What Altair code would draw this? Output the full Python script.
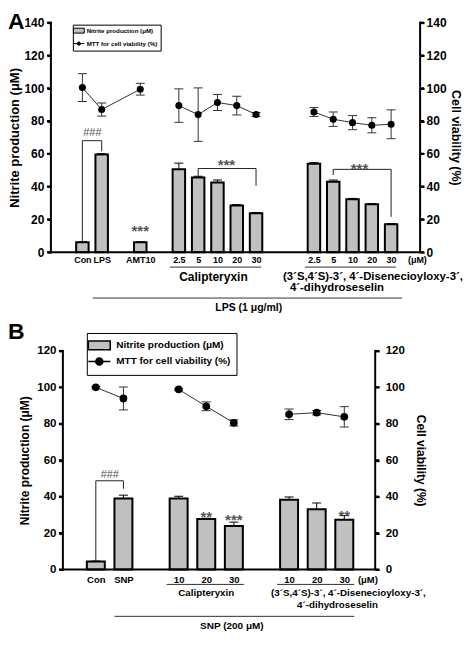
import altair as alt
import pandas as pd

FONT = "Liberation Sans"

# ---------------- Panel A data ----------------
a_slots = ["_0", "Con", "LPS", "_1", "AMT10", "_2", "c|2.5", "c|5", "c|10", "c|20", "c|30",
           "_3", "_4", "d|2.5", "d|5", "d|10", "d|20", "d|30", "_5"]
a_keys = ["Con", "LPS", "AMT10", "c|2.5", "c|5", "c|10", "c|20", "c|30",
          "d|2.5", "d|5", "d|10", "d|20", "d|30"]
a_group = ["ctl", "ctl", "ctl", "c", "c", "c", "c", "c", "d", "d", "d", "d", "d"]
a_nitrite = [6.0, 59.5, 6.0, 50.5, 45.5, 42.5, 28.5, 23.8, 54.0, 43.0, 32.3, 29.2, 17.0]
a_nitrite_err = [0.3, 0.6, 0.3, 3.8, 0.8, 1.5, 0.5, 0.4, 0.6, 1.0, 0.5, 0.4, 0.4]
a_mtt = [100.4, 87.0, 99.4, 89.4, 83.9, 91.3, 89.4, 84.0, 85.5, 81.1, 79.0, 77.4, 78.0]
a_mtt_err = [8.5, 4.0, 3.6, 10.2, 16.3, 4.9, 5.7, 1.2, 2.7, 4.4, 4.3, 4.6, 8.8]
a_br_left = ["Con", "c|5", "d|5"]
a_br_right = ["LPS", "c|30", "d|30"]
a_br_top = [68.0, 51.0, 50.5]
a_br_left_end = [6.5, 46.5, 47.0]
a_br_right_end = [61.5, 40.5, 21.5]
a_sig_text = ["###", "***", "***", "***"]
a_sig_key = ["Con", "AMT10", "c|10", "d|10"]
a_sig_y = [72.5, 16.0, 56.0, 54.0]

# ---------------- Panel B data ----------------
b_slots = ["_0", "Con", "SNP", "_1", "c|10", "c|20", "c|30", "_2", "d|10", "d|20", "d|30", "_3"]
b_keys = ["Con", "SNP", "c|10", "c|20", "c|30", "d|10", "d|20", "d|30"]
b_group = ["ctl", "ctl", "c", "c", "c", "d", "d", "d"]
b_nitrite = [4.3, 39.0, 39.0, 27.7, 23.8, 38.3, 33.0, 27.3]
b_nitrite_err = [0.3, 1.8, 1.2, 0.4, 2.2, 1.5, 3.5, 2.3]
b_mtt = [100.0, 93.9, 98.9, 89.6, 80.5, 85.2, 86.1, 83.8]
b_mtt_err = [0.5, 6.3, 0.5, 2.4, 1.7, 2.9, 1.2, 5.6]
b_br_left = ["Con"]
b_br_right = ["SNP"]
b_br_top = [48.7]
b_br_left_end = [4.6]
b_br_right_end = [44.3]
b_sig_text = ["###", "**", "***", "**"]
b_sig_key = ["Con", "c|20", "c|30", "d|30"]
b_sig_y = [52.0, 31.5, 30.0, 32.0]

legend_labels = ["Nitrite production (\u03bcM)", "MTT for cell viability (%)"]
unit_label = "(\u03bcM)"
cal_label = "Calipteryxin"
dis_label1 = "(3\u00b4S,4\u00b4S)-3\u00b4, 4\u00b4-Disenecioyloxy-3\u00b4,"
dis_label2 = "4\u00b4-dihydroseselin"
a_treat = "LPS (1 \u03bcg/ml)"
b_treat = "SNP (200 \u03bcM)"


def label_expr(con_label):
    return ("substring(datum.value,0,1) == '_' ? '' : "
            "(datum.value == 'Con' ? '" + con_label + "' : "
            "(indexof(datum.value,'|') >= 0 ? split(datum.value,'|')[1] : datum.value))")


def panel(slots, keys, group, nit, nerr, mtt, merr, brl, brr, brt, brle, brre,
          sig_t, sig_k, sig_y, sig_dx, letter, W, H, ymax, pad, align, bw, cap, psize,
          first_key, dis_first, unit_dx, cal_key, dis_key, dis_dx1, dis_dx2,
          treat, treat_key, treat_dx, lo_off, hi_off, ul_off, fs, lab_pad, leg, geo):
    x0 = geo["x0"]  # where the visible plot frame starts
    xs = alt.Scale(type="point", domain=slots, padding=pad, align=align)
    ys = alt.Scale(domain=[0, ymax], nice=False, zero=True)
    xaxis = alt.Axis(title=None, ticks=False, domain=False, labelExpr=label_expr(geo["con"]),
                     labelAngle=0, labelFontSize=fs["cat"], labelPadding=lab_pad,
                     labelOverlap=False)

    def X(f):
        return alt.X(f, type="nominal", scale=xs, axis=xaxis, sort=None)

    def Y(f, axis=None):
        return alt.Y(f, type="quantitative", scale=ys, axis=axis)

    df = pd.DataFrame({
        "k": keys, "g": group, "i": list(range(len(keys))),
        "n": nit, "ne": [a + b for a, b in zip(nit, nerr)],
        "m": mtt, "mlo": [a - b for a, b in zip(mtt, merr)],
        "mhi": [a + b for a, b in zip(mtt, merr)],
    })
    yvals = list(range(0, ymax + 1, 20))
    laxis = alt.Axis(title="Nitrite production (\u03bcM)", orient="left", values=yvals,
                     labelFontSize=fs["tick"], titleFontSize=fs["title"], offset=-x0,
                     titlePadding=geo["ltp"], labelPadding=3)
    raxis = alt.Axis(title="Cell viability (%)", orient="right", values=yvals,
                     labelFontSize=fs["tick"], titleFontSize=fs["rtitle"],
                     labelPadding=geo["rlp"], titlePadding=geo["rtp"])

    base = alt.Chart(df)
    layers = []
    layers.append(base.mark_bar(width=bw, fill="#c0c0c0", stroke="black", strokeWidth=2)
                  .encode(x=X("k"), y=Y("n", laxis)))
    layers.append(base.mark_rule(color="black", strokeWidth=1)
                  .encode(x=X("k"), y=Y("n"), y2=alt.Y2("ne")))
    layers.append(base.mark_tick(color="black", thickness=1, size=cap, orient="horizontal", opacity=1)
                  .encode(x=X("k"), y=Y("ne")))
    layers.append(base.mark_line(color="#333333", strokeWidth=1)
                  .encode(x=X("k"), y=Y("m", raxis), detail="g:N", order="i:Q"))
    layers.append(base.mark_rule(color="#333333", strokeWidth=1)
                  .encode(x=X("k"), y=Y("mlo"), y2=alt.Y2("mhi")))
    for f in ["mlo", "mhi"]:
        layers.append(base.mark_tick(color="#333333", thickness=1, size=cap, orient="horizontal", opacity=1)
                      .encode(x=X("k"), y=Y(f)))
    layers.append(base.mark_point(filled=True, color="black", size=psize, opacity=1)
                  .encode(x=X("k"), y=Y("m")))

    # axis frame (domain lines and ticks)
    one = alt.Chart(pd.DataFrame({"d": [0]}))
    for xv in [x0, W]:
        layers.append(one.mark_rule(color="black", strokeWidth=2, strokeCap="square")
                      .encode(x=alt.value(xv), y=alt.value(0), y2=alt.value(H)))
    layers.append(one.mark_rule(color="black", strokeWidth=2, strokeCap="square")
                  .encode(x=alt.value(x0), x2=alt.value(W), y=alt.value(H)))
    tk = alt.Chart(pd.DataFrame({"v": yvals}))
    layers.append(tk.mark_rule(color="black", strokeWidth=2)
                  .encode(x=alt.value(x0 - 4), x2=alt.value(x0), y=Y("v")))
    layers.append(tk.mark_rule(color="black", strokeWidth=2)
                  .encode(x=alt.value(W), x2=alt.value(W + 4), y=Y("v")))

    # brackets
    br = alt.Chart(pd.DataFrame({"l": brl, "r": brr, "top": brt, "le": brle, "re": brre}))
    layers.append(br.mark_rule(color="#222222", strokeWidth=1)
                  .encode(x=X("l"), y=Y("le"), y2=alt.Y2("top")))
    layers.append(br.mark_rule(color="#222222", strokeWidth=1)
                  .encode(x=X("r"), y=Y("re"), y2=alt.Y2("top")))
    layers.append(br.mark_rule(color="#222222", strokeWidth=1)
                  .encode(x=X("l"), x2=alt.X2("r"), y=Y("top")))
    # significance marks
    for t, k, yv, dx in zip(sig_t, sig_k, sig_y, sig_dx):
        star = t.startswith("*")
        layers.append(alt.Chart(pd.DataFrame({"k": [k], "y": [yv], "t": [t]}))
                      .mark_text(dx=dx, dy=(5 if star else 0), baseline="middle", align="center",
                                 font=FONT, fontSize=(fs["star"] if star else fs["hash"]),
                                 color="#555555", fontWeight=("bold" if star else "normal"))
                      .encode(x=X("k"), y=Y("y"), text="t"))

    # unit label
    layers.append(alt.Chart(pd.DataFrame({"k": [slots[-1]], "t": [unit_label]}))
                  .mark_text(dx=unit_dx, baseline="top", font=FONT, fontWeight="bold",
                             fontSize=fs["cat"], color="black")
                  .encode(x=X("k"), y=alt.value(H + lab_pad + 1), text="t"))
    # underlines below compound groups
    ul = alt.Chart(pd.DataFrame({"f": [first_key, dis_first], "t": [cal_key[1], dis_key[1]]}))
    layers.append(ul.mark_rule(color="#333333", strokeWidth=1, xOffset=-ul_off[0], x2Offset=ul_off[1])
                  .encode(x=X("f"), x2=alt.X2("t"), y=alt.value(H + geo["ul"])))
    layers.append(alt.Chart(pd.DataFrame({"k": [cal_key[0]], "t": [cal_label]}))
                  .mark_text(dx=geo["cal_dx"], baseline="middle", font=FONT, fontWeight="bold",
                             fontSize=fs["cal"], color="black")
                  .encode(x=X("k"), y=alt.value(H + geo["cal"]), text="t"))
    layers.append(alt.Chart(pd.DataFrame({"k": [dis_key[0]], "t": [dis_label1]}))
                  .mark_text(dx=dis_dx1, align="left", baseline="middle", font=FONT, fontWeight="bold",
                             fontSize=fs["grp"], color="black")
                  .encode(x=X("k"), y=alt.value(H + geo["d1"]), text="t"))
    layers.append(alt.Chart(pd.DataFrame({"k": [dis_key[0]], "t": [dis_label2]}))
                  .mark_text(dx=dis_dx2, align="left", baseline="middle", font=FONT, fontWeight="bold",
                             fontSize=fs["grp"], color="black")
                  .encode(x=X("k"), y=alt.value(H + geo["d2"]), text="t"))
    # long treatment line
    layers.append(alt.Chart(pd.DataFrame({"f": [keys[1]], "t": [keys[-1]]}))
                  .mark_rule(color="#333333", strokeWidth=1, xOffset=-lo_off, x2Offset=hi_off)
                  .encode(x=X("f"), x2=alt.X2("t"), y=alt.value(H + geo["long"])))
    layers.append(alt.Chart(pd.DataFrame({"k": [treat_key], "t": [treat]}))
                  .mark_text(dx=treat_dx, baseline="middle", font=FONT, fontWeight="bold",
                             fontSize=fs["treat"], color="black")
                  .encode(x=X("k"), y=alt.value(H + geo["treat"]), text="t"))
    # legend
    legend = alt.Legend(title=None, orient="none", legendX=leg["x"], legendY=leg["y"],
                        strokeColor="black", fillColor="white", padding=leg["pad"],
                        rowPadding=leg["rowpad"], labelFontSize=leg["fs"], labelOffset=leg["loff"],
                        symbolSize=leg["size"], symbolStrokeColor="black",
                        symbolStrokeWidth=leg["sw"])
    leg_df = pd.DataFrame({"s": legend_labels})
    layers.append(alt.Chart(leg_df).transform_filter("false")
                  .mark_point(filled=True, strokeWidth=leg["sw"], opacity=1)
                  .encode(shape=alt.Shape("s:N", scale=alt.Scale(domain=legend_labels, range=leg["paths"]), legend=legend),
                          fill=alt.Fill("s:N", scale=alt.Scale(domain=legend_labels, range=["#c0c0c0", "black"]), legend=legend),
                          stroke=alt.Stroke("s:N", scale=alt.Scale(domain=legend_labels, range=["black", "black"]), legend=legend)))
    # panel letter
    layers.append(alt.Chart(pd.DataFrame({"t": [letter]}))
                  .mark_text(align="left", baseline="top", font=FONT, fontWeight="bold",
                             fontSize=23, color="black")
                  .encode(x=alt.value(geo["lx"]), y=alt.value(geo["ly"]), text="t"))

    return alt.layer(*layers).resolve_scale(y="independent").properties(width=W, height=H)


A = panel(a_slots, a_keys, a_group, a_nitrite, a_nitrite_err, a_mtt, a_mtt_err,
          a_br_left, a_br_right, a_br_top, a_br_left_end, a_br_right_end,
          a_sig_text, a_sig_key, a_sig_y, [10, 0, 9, 7], "A",
          W=370, H=230, ymax=140, pad=0.567, align=0.557, bw=12.5, cap=9, psize=50,
          first_key="c|2.5", dis_first="d|2.5", unit_dx=7, cal_key=("c|10", "c|30"),
          dis_key=("d|2.5", "d|30"), dis_dx1=-31, dis_dx2=-24,
          treat=a_treat, treat_key="c|20", treat_dx=12, lo_off=9, hi_off=11, ul_off=(9, 5),
          fs={"cat": 9, "tick": 12, "title": 13, "rtitle": 12.5, "star": 15, "hash": 11,
              "grp": 11.4, "cal": 12, "treat": 10.5},
          lab_pad=3,
          leg={"x": 22, "y": 2, "pad": 2.5, "rowpad": 4, "fs": 6.2, "loff": 4.3, "size": 30, "sw": 1,
               "paths": ["M-2,-0.9H2V0.9H-2Z",
                         "M-2,0H2M-0.6,0A0.6,0.6,0,1,0,0.6,0A0.6,0.6,0,1,0,-0.6,0Z"]},
          geo={"x0": 0, "con": "Con\u00a0\u00a0\u00a0", "ltp": 2, "rlp": 2, "rtp": 2,
               "ul": 15, "cal": 25, "cal_dx": -4, "d1": 25, "d2": 36,
               "long": 46, "treat": 56, "lx": -43, "ly": -12})

B = panel(b_slots, b_keys, b_group, b_nitrite, b_nitrite_err, b_mtt, b_mtt_err,
          b_br_left, b_br_right, b_br_top, b_br_left_end, b_br_right_end,
          b_sig_text, b_sig_key, b_sig_y, [14, 0, 0, 0], "B",
          W=325, H=219, ymax=120, pad=0.373, align=0.84, bw=18, cap=9, psize=60,
          first_key="c|10", dis_first="d|10", unit_dx=-4, cal_key=("c|20", "c|30"),
          dis_key=("d|10", "d|30"), dis_dx1=-18, dis_dx2=8,
          treat=b_treat, treat_key="c|30", treat_dx=-2, lo_off=9, hi_off=10, ul_off=(12, 10),
          fs={"cat": 9.5, "tick": 11.5, "title": 12, "rtitle": 12, "star": 15, "hash": 11,
              "grp": 9.8, "cal": 9.8, "treat": 10},
          lab_pad=5,
          leg={"x": 36, "y": -18, "pad": 6, "rowpad": 1, "fs": 10, "loff": 10.5, "size": 121, "sw": 1.5,
               "paths": ["M-2,-0.8H2V0.8H-2Z",
                         "M-2,0H2M-0.64,0A0.64,0.64,0,1,0,0.64,0A0.64,0.64,0,1,0,-0.64,0Z"]},
          geo={"x0": 12, "con": "Con", "ltp": 5, "rlp": 6, "rtp": 9,
               "ul": 15, "cal": 24, "cal_dx": 0, "d1": 24, "d2": 36,
               "long": 47, "treat": 57, "lx": -43, "ly": -30})

ind = dict(fill="independent", shape="independent", stroke="independent")
chart = (alt.vconcat(A, B, spacing=7)
         .resolve_scale(**ind)
         .properties(padding={"left": 0, "top": 2, "right": 1, "bottom": 0})
         .configure_view(stroke=None)
         .configure_axis(domain=False, ticks=True, tickColor="black", tickWidth=2, tickSize=4,
                         grid=False, labelFont=FONT,
                         labelFontWeight="bold", labelColor="black", titleFont=FONT,
                         titleFontWeight="bold", titleColor="black")
         .configure_legend(labelFont=FONT, labelFontWeight="bold", labelColor="black"))

chart.save("out.html", embed_options={"renderer": "svg", "actions": False})
